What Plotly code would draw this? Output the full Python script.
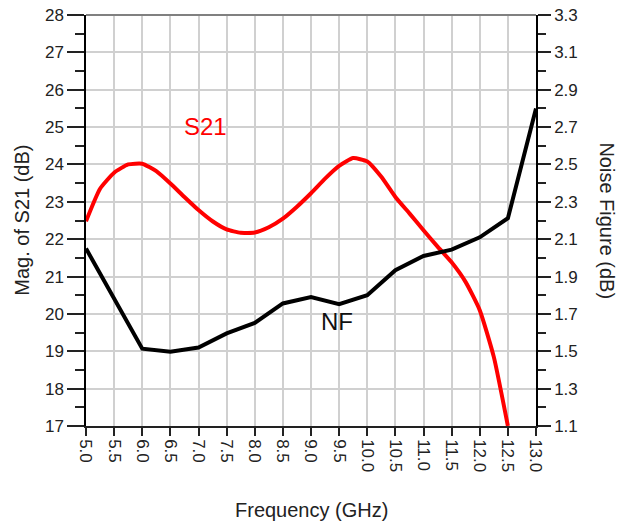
import plotly.graph_objects as go

freq_s21 = [5.0, 5.25, 5.5, 5.75, 6.0, 6.25, 6.5, 6.75, 7.0, 7.25, 7.5, 7.75, 8.0, 8.25,
            8.5, 8.75, 9.0, 9.25, 9.5, 9.75, 10.0, 10.25, 10.5, 10.75, 11.0, 11.25,
            11.5, 11.75, 12.0, 12.25, 12.5]
s21_db = [22.48, 23.35, 23.78, 24.0, 24.02, 23.82, 23.49, 23.13, 22.78, 22.48, 22.26,
          22.17, 22.18, 22.32, 22.55, 22.87, 23.23, 23.62, 23.96, 24.17, 24.08, 23.67,
          23.13, 22.69, 22.24, 21.8, 21.38, 20.85, 20.1, 18.85, 17.0]

freq_nf = [5.0, 6.0, 6.5, 7.0, 7.5, 8.0, 8.5, 9.0, 9.5, 10.0, 10.5, 11.0, 11.5, 12.0, 12.5, 13.0]
nf_db = [2.05, 1.514, 1.497, 1.52, 1.596, 1.652, 1.756, 1.79, 1.752, 1.80, 1.934, 2.01, 2.044,
         2.11, 2.212, 2.80]

x_ticks = [5.0 + 0.5 * i for i in range(17)]
left_ticks = list(range(17, 29))
right_ticks = [round(1.1 + 0.2 * i, 1) for i in range(12)]

FONT = "Arial, Liberation Sans, sans-serif"
TXT = "#222"

fig = go.Figure()
fig.add_trace(go.Scatter(x=freq_s21, y=s21_db, mode="lines",
                         line=dict(color="#ff0000", width=4, shape="spline", smoothing=0.5),
                         yaxis="y", showlegend=False))
fig.add_trace(go.Scatter(x=freq_nf, y=nf_db, mode="lines", line=dict(color="#000000", width=4),
                         yaxis="y2", showlegend=False))

fig.update_layout(
    width=620, height=529,
    margin=dict(l=86, r=84, t=15, b=103),
    paper_bgcolor="white", plot_bgcolor="white",
    font=dict(family=FONT, size=17, color=TXT),
    xaxis=dict(range=[5.0, 13.0], tickvals=x_ticks, ticktext=[f"{v:.1f}" for v in x_ticks],
               tickangle=90, ticks="outside", ticklen=8, tickcolor=TXT, tickwidth=1.5,
               showline=True, linecolor=TXT, linewidth=1.5, automargin=False,
               ticklabeloverflow="allow",
               showgrid=True, gridcolor="#d0d0d0", gridwidth=1.5, zeroline=False,
               tickfont=dict(size=17, family=FONT, color=TXT)),
    yaxis=dict(range=[17, 28], tickvals=left_ticks, ticks="outside", ticklen=17, tickcolor=TXT,
               tickwidth=1.5, showline=True, linecolor="#000", linewidth=1.5, automargin=False,
               ticklabeloverflow="allow",
               showgrid=True, gridcolor="#d0d0d0", gridwidth=1.5, zeroline=False,
               minor=dict(ticks="outside", ticklen=9, dtick=0.5, tick0=17, tickcolor=TXT,
                          tickwidth=1.5, showgrid=False),
               tickfont=dict(size=17, family=FONT, color=TXT)),
    yaxis2=dict(range=[1.1, 3.3], tickvals=right_ticks, ticktext=[f"{v:.1f}" for v in right_ticks],
                overlaying="y", side="right", ticks="outside", ticklen=13, tickcolor=TXT,
                tickwidth=1.5, showline=True, linecolor="#000", linewidth=1.5, automargin=False,
                ticklabeloverflow="allow",
                showgrid=False, zeroline=False,
                minor=dict(ticks="outside", ticklen=8, dtick=0.1, tick0=1.1, tickcolor=TXT,
                           tickwidth=1.5),
                tickfont=dict(size=17, family=FONT, color=TXT)),
    shapes=[dict(type="line", xref="x domain", yref="y domain", x0=0, x1=1, y0=1, y1=1,
                 line=dict(color="#808080", width=2))],
    annotations=[
        dict(text="S21", x=7.12, y=25.01, xref="x", yref="y", showarrow=False,
             font=dict(size=24, color="#ff0000", family=FONT)),
        dict(text="NF", x=9.46, y=19.8, xref="x", yref="y", showarrow=False,
             font=dict(size=24, color="#111", family=FONT)),
        dict(text="Frequency (GHz)", x=0.5, y=-0.204, xref="paper", yref="paper",
             xanchor="center", yanchor="middle", showarrow=False,
             font=dict(size=20, color=TXT, family=FONT)),
        dict(text="Mag. of S21 (dB)", x=-0.144, y=0.5, xref="paper", yref="paper", textangle=-90,
             xanchor="center", yanchor="middle", showarrow=False,
             font=dict(size=20, color=TXT, family=FONT)),
        dict(text="Noise Figure (dB)", x=1.158, y=0.5, xref="paper", yref="paper", textangle=90,
             xanchor="center", yanchor="middle", showarrow=False,
             font=dict(size=20, color=TXT, family=FONT)),
    ],
)

fig.write_html("out.html", config={"displayModeBar": False},
               post_script="document.body.style.margin='0px';")
